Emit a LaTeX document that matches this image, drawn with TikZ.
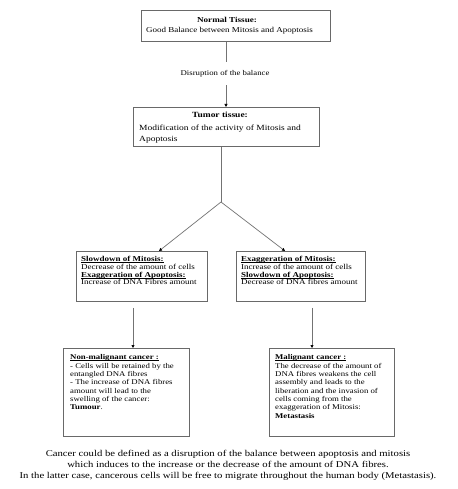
\documentclass[tikz,border=0pt]{standalone}
\usepackage{fontspec}
\setmainfont[FakeStretch=1.2]{Liberation Serif}
\usetikzlibrary{arrows.meta}
\definecolor{boxgray}{RGB}{105,105,105}
\definecolor{linegray}{RGB}{115,115,115}
\newcommand{\myul}[1]{\setbox0\hbox{#1}\rlap{\rule[-1.1pt]{\wd0}{0.5pt}}\box0}
\begin{document}
\begin{tikzpicture}[x=1pt,y=-1pt,
  box/.style={draw=boxgray, line width=0.8pt, inner sep=0pt, anchor=north west},
  txt/.style={inner sep=0pt, anchor=north west, align=left},
  ttl/.style={inner sep=0pt, anchor=base},
  conn/.style={draw=linegray, line width=0.7pt},
  arr/.style={conn, -{Triangle[length=3pt,width=3pt,black]}}
]
\useasboundingbox[fill=white] (0,0) rectangle (457,489);

% boxes
\node[box, minimum width=189pt, minimum height=31pt] (b1) at (141,10) {};
\node[box, minimum width=186pt, minimum height=39pt] (b2) at (133,107) {};
\node[box, minimum width=131pt, minimum height=50pt] (b3) at (76,251) {};
\node[box, minimum width=129pt, minimum height=50pt] (b4) at (236,251) {};
\node[box, minimum width=126pt, minimum height=88pt] (b5) at (63,348) {};
\node[box, minimum width=125pt, minimum height=88pt] (b6) at (269,348) {};

% box 1 text
\node[ttl, font=\fontsize{7.6}{10}\selectfont] (t1) at (227,22.5) {\textbf{Normal Tissue:}};
\node[txt, font=\fontsize{7.5}{10}\selectfont] (x1) at (146,26.5) {\rule{0pt}{6pt}Good Balance between Mitosis and Apoptosis};

% label
\node[inner sep=0pt, minimum height=23pt, font=\fontsize{7.3}{9}\selectfont] (lab) at (225,73.5) {Disruption of the balance};

% box 2 text
\node[ttl, font=\fontsize{7.9}{10.7}\selectfont] (t2) at (220,117.5) {\textbf{Tumor tissue:}};
\node[txt, font=\fontsize{7.9}{10.7}\selectfont] (x2) at (139,124.5) {\rule{0pt}{6pt}Modification of the activity of Mitosis and\\Apoptosis};

% box 3 text
\node[txt, font=\fontsize{7.5}{7.7}\selectfont] (x3) at (81,255.5) {\rule{0pt}{6pt}\myul{\textbf{Slowdown of Mitosis:}}\\Decrease of the amount of cells\\\myul{\textbf{Exaggeration of Apoptosis:}}\\Increase of DNA Fibres amount};

% box 4 text
\node[txt, font=\fontsize{7.5}{7.7}\selectfont] (x4) at (241,255.5) {\rule{0pt}{6pt}\myul{\textbf{Exaggeration of Mitosis:}}\\Increase of the amount of cells\\\myul{\textbf{Slowdown of Apoptosis:}}\\Decrease of DNA fibres amount};

% box 5 text
\node[txt, font=\fontsize{7.3}{8.33}\selectfont] (x5) at (70,353.5) {\rule{0pt}{6pt}\myul{\textbf{Non-malignant cancer :}}\\- Cells will be retained by the\\entangled DNA fibres\\- The increase of DNA fibres\\amount will lead to the\\swelling of the cancer:\\\textbf{Tumour}.};

% box 6 text
\node[txt, font=\fontsize{7.3}{8.33}\selectfont] (x6) at (275,353.5) {\rule{0pt}{6pt}\myul{\textbf{Malignant cancer :}}\\The decrease of the amount of\\DNA fibres weakens the cell\\assembly and leads to the\\liberation and the invasion of\\cells coming from the\\exaggeration of Mitosis:\\\textbf{Metastasis}};

% footer
\node[inner sep=0pt, anchor=north, align=center, font=\fontsize{8.9}{11}\selectfont] (foot) at (228,450.5) {\rule{0pt}{6pt}Cancer could be defined as a disruption of the balance between apoptosis and mitosis\\which induces to the increase or the decrease of the amount of DNA fibres.\\In the latter case, cancerous cells will be free to migrate throughout the human body (Metastasis).};

% connectors
\coordinate (c1) at (226,0);
\draw[conn] (b1.south -| c1) -- (lab.north -| c1);
\draw[arr] (lab.south -| c1) -- (b2.north -| c1);

\coordinate (j) at (221,202);
\coordinate (tl) at (159,0);
\coordinate (tr) at (285,0);
\draw[conn] (b2.south -| j) -- (j);
\draw[arr] (j) -- (b3.north -| tl);
\draw[arr] (j) -- (b4.north -| tr);

\coordinate (al) at (133,0);
\coordinate (ar) at (312,0);
\draw[arr, shorten <=6pt] (b3.south -| al) -- (b5.north -| al);
\draw[arr, shorten <=6pt] (b4.south -| ar) -- (b6.north -| ar);
\end{tikzpicture}
\end{document}
